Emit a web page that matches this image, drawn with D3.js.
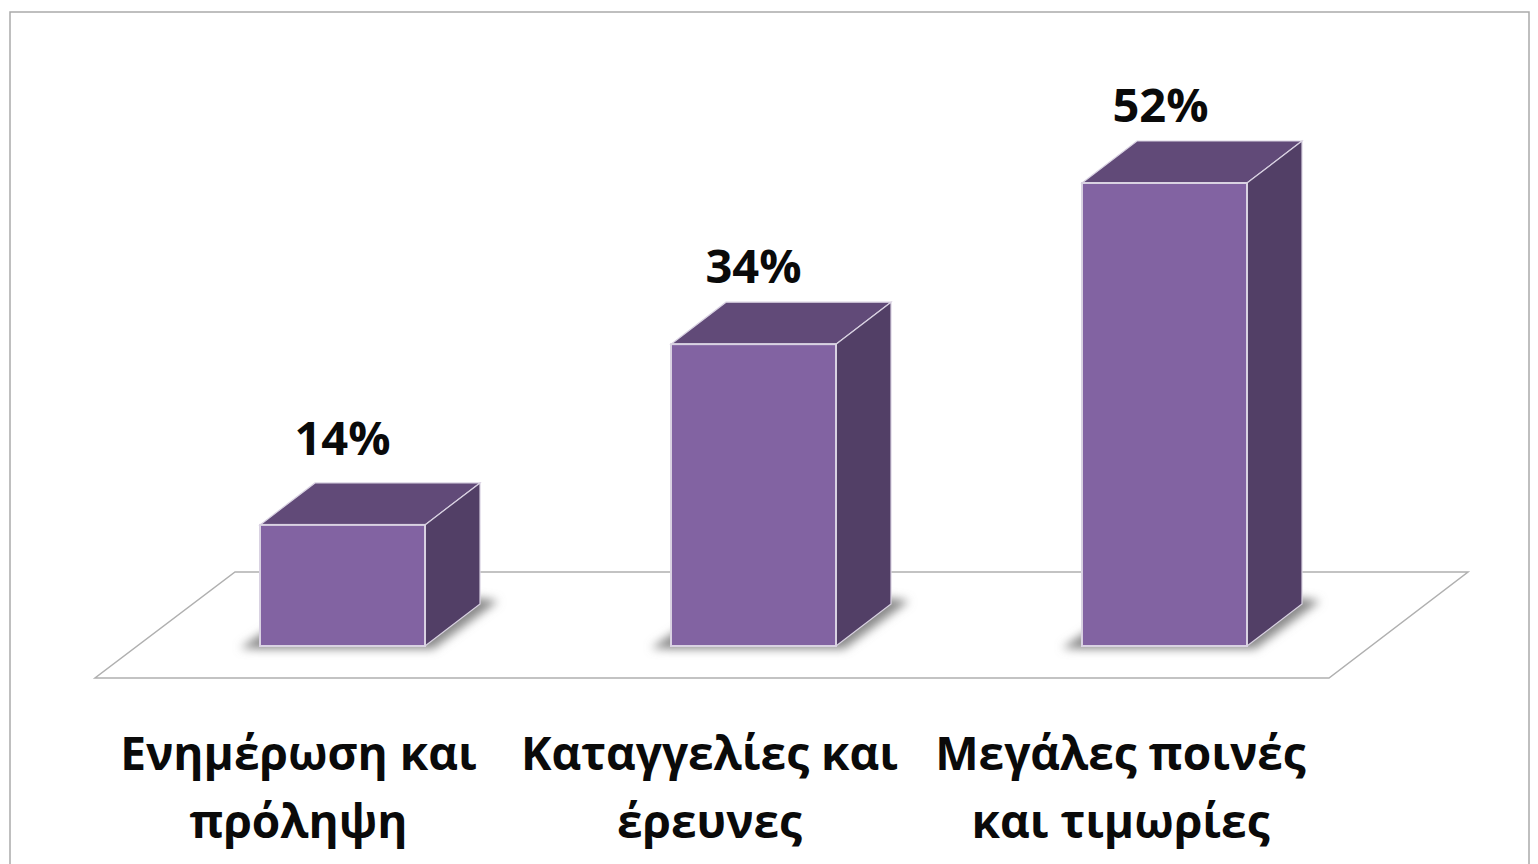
<!DOCTYPE html>
<html>
<head>
<meta charset="utf-8">
<script src="https://cdn.jsdelivr.net/npm/d3@7"></script>
<style>
    html, body { margin: 0; padding: 0; background: #fff; overflow: hidden; }
    svg { display: block; }
    text { font-family: "Open Sans", "Noto Sans", sans-serif; font-weight: 700; fill: #0a0a0a; }
</style>
</head>
<body>
<script>
var categories = [
    ["Ενημέρωση και", "πρόληψη"],
    ["Καταγγελίες και", "έρευνες"],
    ["Μεγάλες ποινές", "και τιμωρίες"]
];
var categoryKeys = ["a", "b", "c"];
var values = [13.6, 33.9, 52];

var width = 1538;
var height = 864;
var baseY = 646;
var topY = 183;
var depthX = 55;
var depthY = 42;
var labelShift = -44;

var svg = d3.select("body").append("svg")
    .attr("width", width)
    .attr("height", height);

var defs = svg.append("defs");
defs.append("filter")
    .attr("id", "shadowBlur")
    .attr("x", "-20%").attr("y", "-50%")
    .attr("width", "140%").attr("height", "200%")
    .append("feGaussianBlur")
    .attr("stdDeviation", 5);

var xScale = d3.scaleBand()
    .domain(categoryKeys)
    .range([260, 1247])
    .paddingInner(0.5985)
    .paddingOuter(0);

var yScale = d3.scaleLinear()
    .domain([0, 52])
    .range([baseY, topY]);

var line = d3.line();

// Outer frame, runs off the bottom of the picture
svg.append("path")
    .attr("d", line([[10, 864], [10, 12], [1529, 12], [1529, 864]]))
    .attr("fill", "none")
    .attr("stroke", "#aaaaaa")
    .attr("stroke-width", 1.5);

// Floor
svg.append("path")
    .attr("d", line([[95, 678], [1329, 678], [1468, 572], [235, 572]]) + "Z")
    .attr("fill", "#ffffff")
    .attr("stroke", "#b0b0b0")
    .attr("stroke-width", 1.5);

var bars = svg.selectAll("g.bar")
    .data(values)
    .enter()
    .append("g")
    .attr("class", "bar");

var bw = xScale.bandwidth();

// Shadows
bars.append("path")
    .attr("d", function(d, i) {
        var x0 = xScale(categoryKeys[i]);
        var x1 = x0 + bw;
        return line([
            [x0 - 20, baseY + 2],
            [x0 + 10, baseY - 18],
            [x1 + depthX, baseY - depthY - 6],
            [x1 + depthX + 18, baseY - depthY - 3],
            [x1 + 8, baseY + 3],
            [x0, baseY + 3]
        ]) + "Z";
    })
    .attr("fill", "#8a8a8a")
    .attr("filter", "url(#shadowBlur)");

var edge = "#d9d2e2";

// Top face
bars.append("path")
    .attr("d", function(d, i) {
        var x0 = xScale(categoryKeys[i]);
        var x1 = x0 + bw;
        var y = yScale(d);
        return line([[x0, y], [x0 + depthX, y - depthY], [x1 + depthX, y - depthY], [x1, y]]) + "Z";
    })
    .attr("fill", "#614a78")
    .attr("stroke", edge)
    .attr("stroke-width", 1.2);

// Side face
bars.append("path")
    .attr("d", function(d, i) {
        var x1 = xScale(categoryKeys[i]) + bw;
        var y = yScale(d);
        return line([[x1, y], [x1 + depthX, y - depthY], [x1 + depthX, baseY - depthY], [x1, baseY]]) + "Z";
    })
    .attr("fill", "#523f66")
    .attr("stroke", edge)
    .attr("stroke-width", 1.2);

// Front face
bars.append("rect")
    .attr("x", function(d, i) { return xScale(categoryKeys[i]); })
    .attr("y", function(d) { return yScale(d); })
    .attr("width", bw)
    .attr("height", function(d) { return baseY - yScale(d); })
    .attr("fill", "#8263a2")
    .attr("stroke", edge)
    .attr("stroke-width", 2);

// Value labels. The first sits a little higher and the last a little left, as in the picture
bars.append("text")
    .attr("x", function(d, i) { return xScale(categoryKeys[i]) + bw / 2 - (i == 2 ? 4 : 0); })
    .attr("y", function(d, i) { return yScale(d) - (i == 0 ? 70 : 61); })
    .attr("text-anchor", "middle")
    .style("font-size", "47px")
    .text(function(d) { return d3.format(".0f")(d) + "%"; });

// Category labels
categories.forEach(function(lines, i) {
    var cx = xScale(categoryKeys[i]) + bw / 2 + labelShift;
    lines.forEach(function(t, j) {
        svg.append("text")
            .attr("x", cx)
            .attr("y", 770 + j * 68)
            .attr("text-anchor", "middle")
            .style("font-size", "46px")
            .text(t);
    });
});
</script>
</body>
</html>
